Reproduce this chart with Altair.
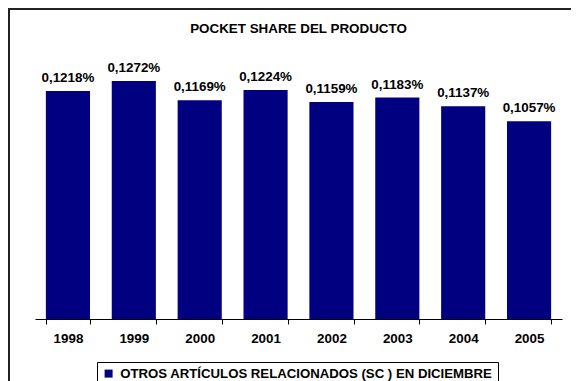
import altair as alt
import pandas as pd

years = ["1998", "1999", "2000", "2001", "2002", "2003", "2004", "2005"]
values = [0.1218, 0.1272, 0.1169, 0.1224, 0.1159, 0.1183, 0.1137, 0.1057]
series_name = "OTROS ARTÍCULOS RELACIONADOS (SC ) EN DICIEMBRE"
title_text = "POCKET SHARE DEL PRODUCTO"

labels = [f"{v:.4f}".replace(".", ",") + "%" for v in values]
df = pd.DataFrame({"year": years, "value": values, "label": labels, "serie": [series_name] * len(years)})

FONT = "Liberation Sans"
FS = 13.4
NAVY = "#000080"

x_enc = alt.X(
    "year:N",
    sort=years,
    title=None,
    scale=alt.Scale(paddingInner=0.33, paddingOuter=0.165),
    axis=alt.Axis(
        labelAngle=0, labelFont=FONT, labelFontSize=FS, labelFontWeight="bold",
        labelColor="black", tickColor="black", domainColor="black",
        tickSize=5, labelPadding=7, tickBand="extent", domainWidth=1, tickWidth=1,
    ),
)
y_enc = alt.Y("value:Q", scale=alt.Scale(domain=[0, 0.14], nice=False), axis=None)

base = alt.Chart(df)

bars = base.mark_bar().encode(
    x=x_enc,
    y=y_enc,
    color=alt.Color(
        "serie:N",
        scale=alt.Scale(range=[NAVY]),
        legend=alt.Legend(
            title=None, orient="none", legendX=62, legendY=305,
            symbolType="square", symbolSize=64, symbolStrokeWidth=0,
            labelFont=FONT, labelFontSize=13.2, labelFontWeight="bold", labelColor="black",
            labelLimit=600, strokeColor="black", fillColor="white", padding=5,
            labelOffset=5,
        ),
    ),
)

text = base.mark_text(
    dy=-9, baseline="alphabetic", font=FONT, fontSize=FS, fontWeight="bold", color="black"
).encode(x=alt.X("year:N", sort=years), y=y_enc, text="label:N")

one = alt.Chart(pd.DataFrame({"t": [title_text]}))

frame_top = one.mark_rule(color="#222222", strokeWidth=2).encode(
    x=alt.value(-27), x2=alt.value(600), y=alt.value(-48)
)
frame_left = one.mark_rule(color="#222222", strokeWidth=2).encode(
    x=alt.value(-26), y=alt.value(-49), y2=alt.value(420)
)

title = one.mark_text(
    font=FONT, fontSize=FS, fontWeight="bold", color="black", baseline="alphabetic", align="center"
).encode(x=alt.value(263.5), y=alt.value(-24), text="t:N")

chart = alt.layer(frame_top, frame_left, title, bars, text).properties(
    width=527,
    height=262,
    padding={"left": 27, "top": 49, "right": 9, "bottom": 62},
    autosize=alt.AutoSizeParams(type="none"),
).configure(background="white").configure_view(strokeWidth=0)

chart.save("out.html", embed_options={"renderer": "svg", "actions": False})
